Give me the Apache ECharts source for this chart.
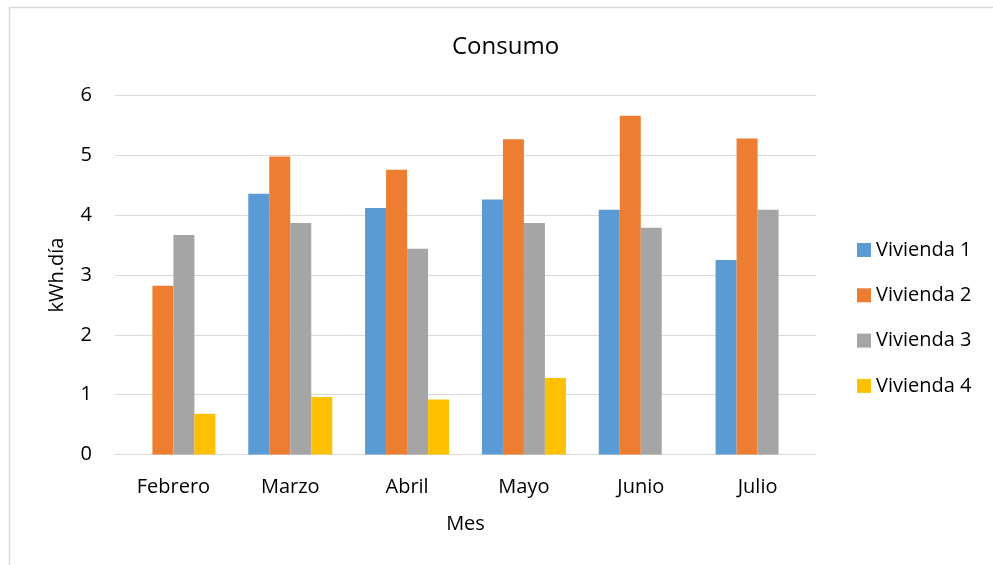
<!DOCTYPE html>
<html>
<head>
<meta charset="utf-8">
<title>Consumo</title>
<script src="https://cdn.jsdelivr.net/npm/echarts@6/dist/echarts.min.js"></script>
<style>
  html, body { margin: 0; padding: 0; background: #ffffff; }
  #chart { width: 993px; height: 565px; }
</style>
</head>
<body>
<div id="chart"></div>
<script>
// Monthly consumption per dwelling (kWh per day)
const meses = ['Febrero', 'Marzo', 'Abril', 'Mayo', 'Junio', 'Julio'];
const vivienda1 = [null, 4.36, 4.12, 4.26, 4.09, 3.25];
const vivienda2 = [2.82, 4.98, 4.76, 5.27, 5.66, 5.28];
const vivienda3 = [3.67, 3.87, 3.44, 3.87, 3.79, 4.09];
const vivienda4 = [0.68, 0.96, 0.92, 1.28, null, null];
const yTicks = { min: 0, max: 6, interval: 1 };

const FONT = '"Open Sans", "Noto Sans", sans-serif';
const TEXT = '#000000';
const GRID_COLOR = '#d9d9d9';

const seriesDefs = [
  { name: 'Vivienda 1', data: vivienda1, color: '#5B9BD5' },
  { name: 'Vivienda 2', data: vivienda2, color: '#ED7D31' },
  { name: 'Vivienda 3', data: vivienda3, color: '#A5A5A5' },
  { name: 'Vivienda 4', data: vivienda4, color: '#FFC000' }
];

const chart = echarts.init(document.getElementById('chart'), null, { renderer: 'canvas' });

chart.setOption({
  animation: false,
  backgroundColor: '#ffffff',
  textStyle: { fontFamily: FONT, color: TEXT },
  graphic: [{
    type: 'rect',
    silent: true,
    shape: { x: 9.5, y: 7.5, width: 1100, height: 700 },
    style: { fill: 'none', stroke: GRID_COLOR, lineWidth: 1.5 }
  }],
  title: {
    text: 'Consumo',
    left: 452,
    top: 33,
    padding: 0,
    textStyle: { fontFamily: FONT, fontSize: 24, fontWeight: 'normal', color: TEXT, lineHeight: 28 }
  },
  legend: {
    orient: 'vertical',
    left: 857,
    top: 240,
    padding: 0,
    itemWidth: 14,
    itemHeight: 14,
    itemGap: 25.3,
    icon: 'rect',
    textStyle: { fontFamily: FONT, fontSize: 20, color: TEXT, lineHeight: 20, padding: [0, 0, 0, 0] },
    data: seriesDefs.map(s => s.name)
  },
  grid: { left: 115, right: 177, top: 95.5, bottom: 110.5, containLabel: false },
  xAxis: {
    type: 'category',
    data: meses,
    name: 'Mes',
    nameLocation: 'middle',
    nameGap: 59,
    nameTextStyle: { fontFamily: FONT, fontSize: 20, color: TEXT, lineHeight: 22 },
    axisLine: { show: true, lineStyle: { color: GRID_COLOR, width: 1 } },
    axisTick: { show: false },
    axisLabel: { fontFamily: FONT, fontSize: 20, color: TEXT, margin: 22, lineHeight: 22 }
  },
  yAxis: {
    type: 'value',
    min: yTicks.min,
    max: yTicks.max,
    interval: yTicks.interval,
    name: 'kWh.día',
    nameLocation: 'middle',
    nameGap: 47,
    nameTextStyle: { fontFamily: FONT, fontSize: 20, color: TEXT, lineHeight: 22 },
    axisLine: { show: false },
    axisTick: { show: false },
    axisLabel: { fontFamily: FONT, fontSize: 20, color: TEXT, margin: 23 },
    splitLine: { show: true, lineStyle: { color: GRID_COLOR, width: 1 } }
  },
  series: seriesDefs.map(s => ({
    name: s.name,
    type: 'bar',
    data: s.data,
    barWidth: 21,
    barGap: '0%',
    itemStyle: { color: s.color },
    emphasis: { disabled: true }
  }))
});
</script>
</body>
</html>
